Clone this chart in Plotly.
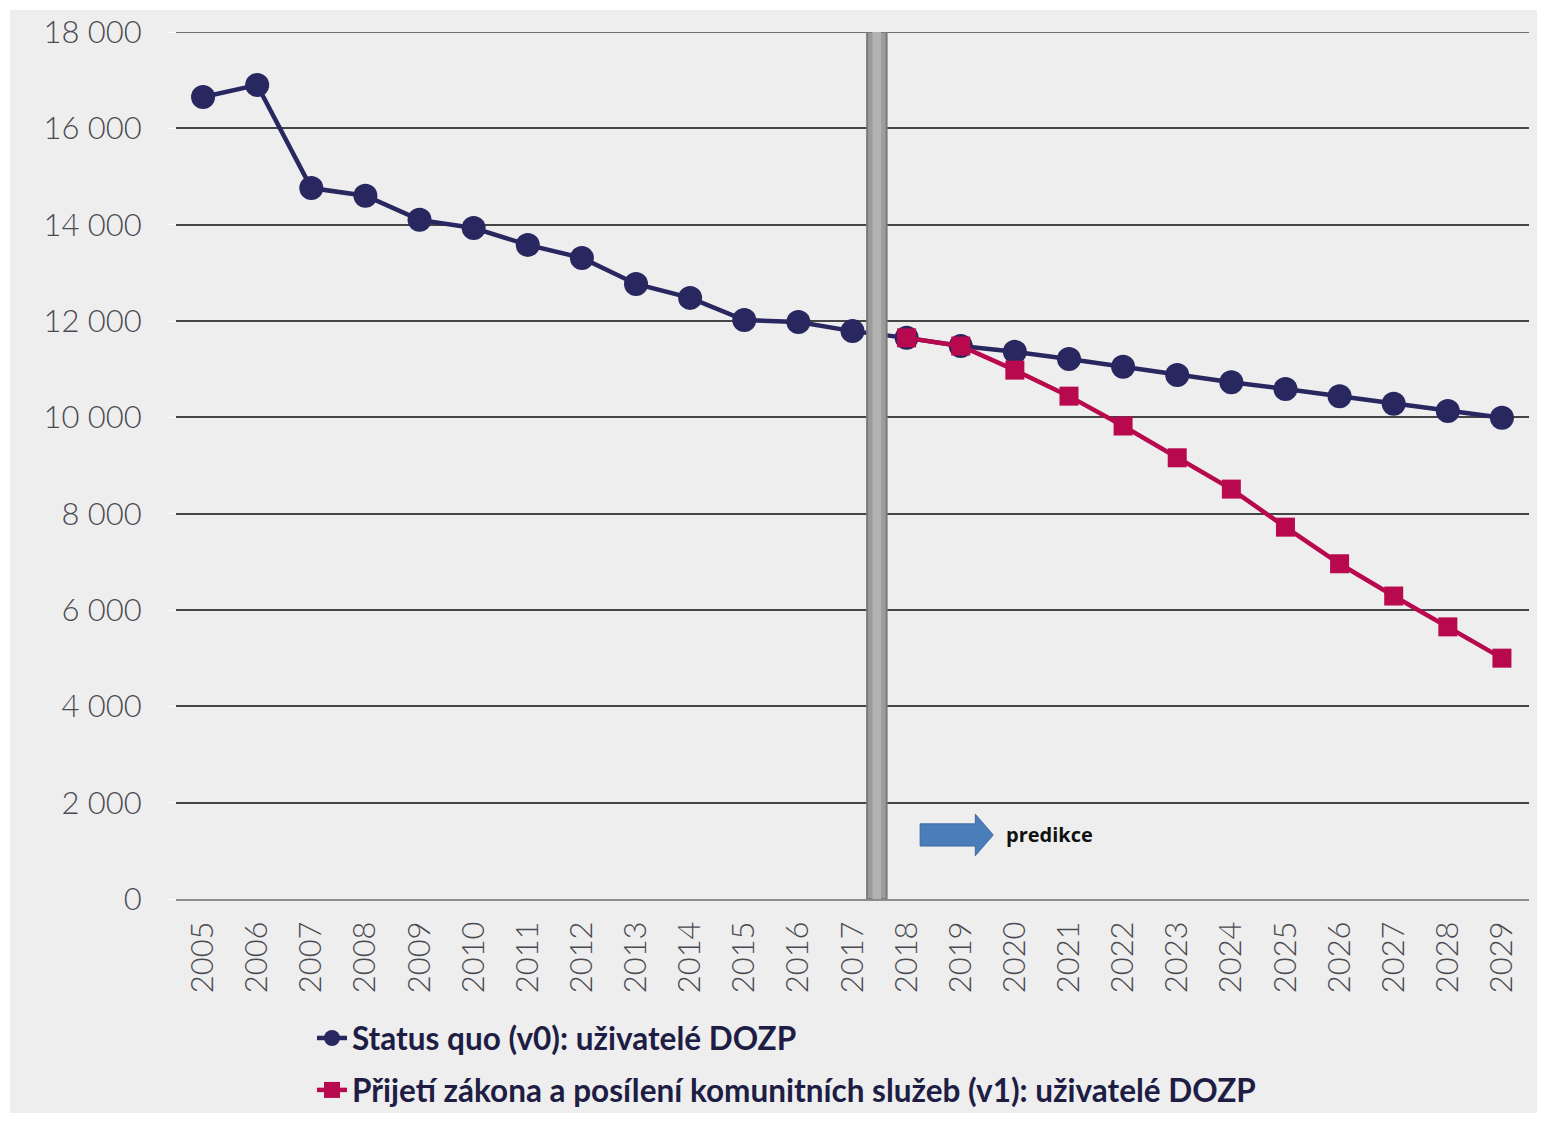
import plotly.graph_objects as go

# Data: number of users of homes for people with disabilities (DOZP)
years = list(range(2005, 2030))
status_quo = [16650, 16900, 14760, 14600, 14100, 13930, 13580, 13310, 12770,
              12480, 12020, 11980, 11790, 11650, 11480, 11360, 11210, 11050,
              10880, 10730, 10590, 10440, 10280, 10130, 9990]
pred_years = list(range(2018, 2030))
law_scenario = [11650, 11480, 10980, 10440, 9820, 9160, 8510, 7720, 6960,
                6290, 5650, 5000]
y_ticks = list(range(0, 18001, 2000))

name_v0 = "Status quo (v0): uživatelé DOZP"
name_v1 = "Přijetí zákona a posílení komunitních služeb (v1): uživatelé DOZP"
divider_year = 2017.45   # boundary between observed data and prediction
arrow_label = "predikce"

NAVY = "#29275f"
MAGENTA = "#b8094f"
TICK_FONT = dict(family="Lato", size=31, color="#4a4a52", weight=300)

fig = go.Figure()

fig.add_trace(go.Scatter(
    x=years, y=status_quo, name=name_v0, mode="lines+markers",
    legendgroup="v0",
    line=dict(color=NAVY, width=4.5),
    marker=dict(symbol="circle", size=24, color=NAVY),
))
fig.add_trace(go.Scatter(
    x=pred_years, y=law_scenario, name=name_v1, mode="lines+markers",
    legendgroup="v1",
    line=dict(color=MAGENTA, width=4.5),
    marker=dict(symbol="square", size=19, color=MAGENTA),
))

# panel background with white frame around it
W, H = 1546, 1122
ml, mr, mt, mb = 176, 17, 32, 223
pw, ph = W - ml - mr, H - mt - mb


def px_x(p):
    return (p - ml) / pw


def px_y(p):
    return (H - mb - p) / ph


shapes = [
    dict(type="rect", xref="paper", yref="paper", layer="below",
         x0=px_x(10), x1=px_x(1537), y0=px_y(1113), y1=px_y(10),
         fillcolor="#eeeeee", line=dict(width=0)),
    # top gridline at the upper end of the value axis
    dict(type="line", xref="paper", yref="y", layer="below",
         x0=0, x1=1, y0=y_ticks[-1], y1=y_ticks[-1],
         line=dict(color="#454545", width=1.5)),
    # vertical divider between data and prediction (darker rim, lighter core)
    dict(type="rect", xref="x", yref="y", layer="above",
         x0=divider_year - 0.18, x1=divider_year + 0.18, y0=0, y1=18000,
         fillcolor="#9c9c9c", line=dict(color="#7a7a7a", width=2)),
    dict(type="rect", xref="x", yref="y", layer="above",
         x0=divider_year - 0.08, x1=divider_year + 0.08, y0=0, y1=18000,
         fillcolor="#b2b2b2", line=dict(width=0)),
]

# arrow pointing into the prediction period (data units)
ax0, ax1, ax2 = 2018.25, 2019.27, 2019.60
ay = 1330
body_h, head_h = 230, 430
arrow_path = (f"M {ax0},{ay - body_h} L {ax1},{ay - body_h} L {ax1},{ay - head_h} "
              f"L {ax2},{ay} L {ax1},{ay + head_h} L {ax1},{ay + body_h} "
              f"L {ax0},{ay + body_h} Z")
shapes.append(dict(type="path", xref="x", yref="y", path=arrow_path,
                   fillcolor="#4a7dba", line=dict(color="#3b69a3", width=1)))

fig.update_layout(
    width=W, height=H,
    margin=dict(l=ml, r=mr, t=mt, b=mb, autoexpand=False),
    paper_bgcolor="white",
    plot_bgcolor="rgba(0,0,0,0)",
    separators=", ",
    shapes=shapes,
    showlegend=True,
    legend=dict(
        orientation="v", xref="container", yref="container",
        x=312 / W, xanchor="left", y=(H - 1011) / H, yanchor="top",
        bgcolor="rgba(0,0,0,0)",
        font=dict(family="Lato", size=31.5, color="#201d45", weight="bold"),
        itemwidth=30, traceorder="grouped", tracegroupgap=8,
    ),
    annotations=[dict(
        x=2019.8, y=ay, xref="x", yref="y", text=arrow_label, showarrow=False,
        xanchor="left", yanchor="middle",
        font=dict(family="Open Sans", size=20, color="#111111", weight="bold"),
    )],
    hovermode=False,
)

fig.update_xaxes(
    range=[2004.5, 2029.5], tickvals=years, ticktext=[str(y) for y in years],
    tickangle=-90, tickfont=TICK_FONT, showgrid=False, zeroline=False,
    showline=True, linecolor="#8c8c8c", linewidth=2, ticks="", ticklabelstandoff=8,
    automargin=False,
)
fig.update_yaxes(
    range=[0, 18000], tickvals=y_ticks, tickformat=",d", tickfont=TICK_FONT,
    showgrid=True, gridcolor="#454545", gridwidth=1.5, zeroline=False,
    showline=False, ticks="outside", ticklen=7, tickcolor="white",
    ticklabelstandoff=20, automargin=False,
)

fig.write_html("out.html", config={"displayModeBar": False})
